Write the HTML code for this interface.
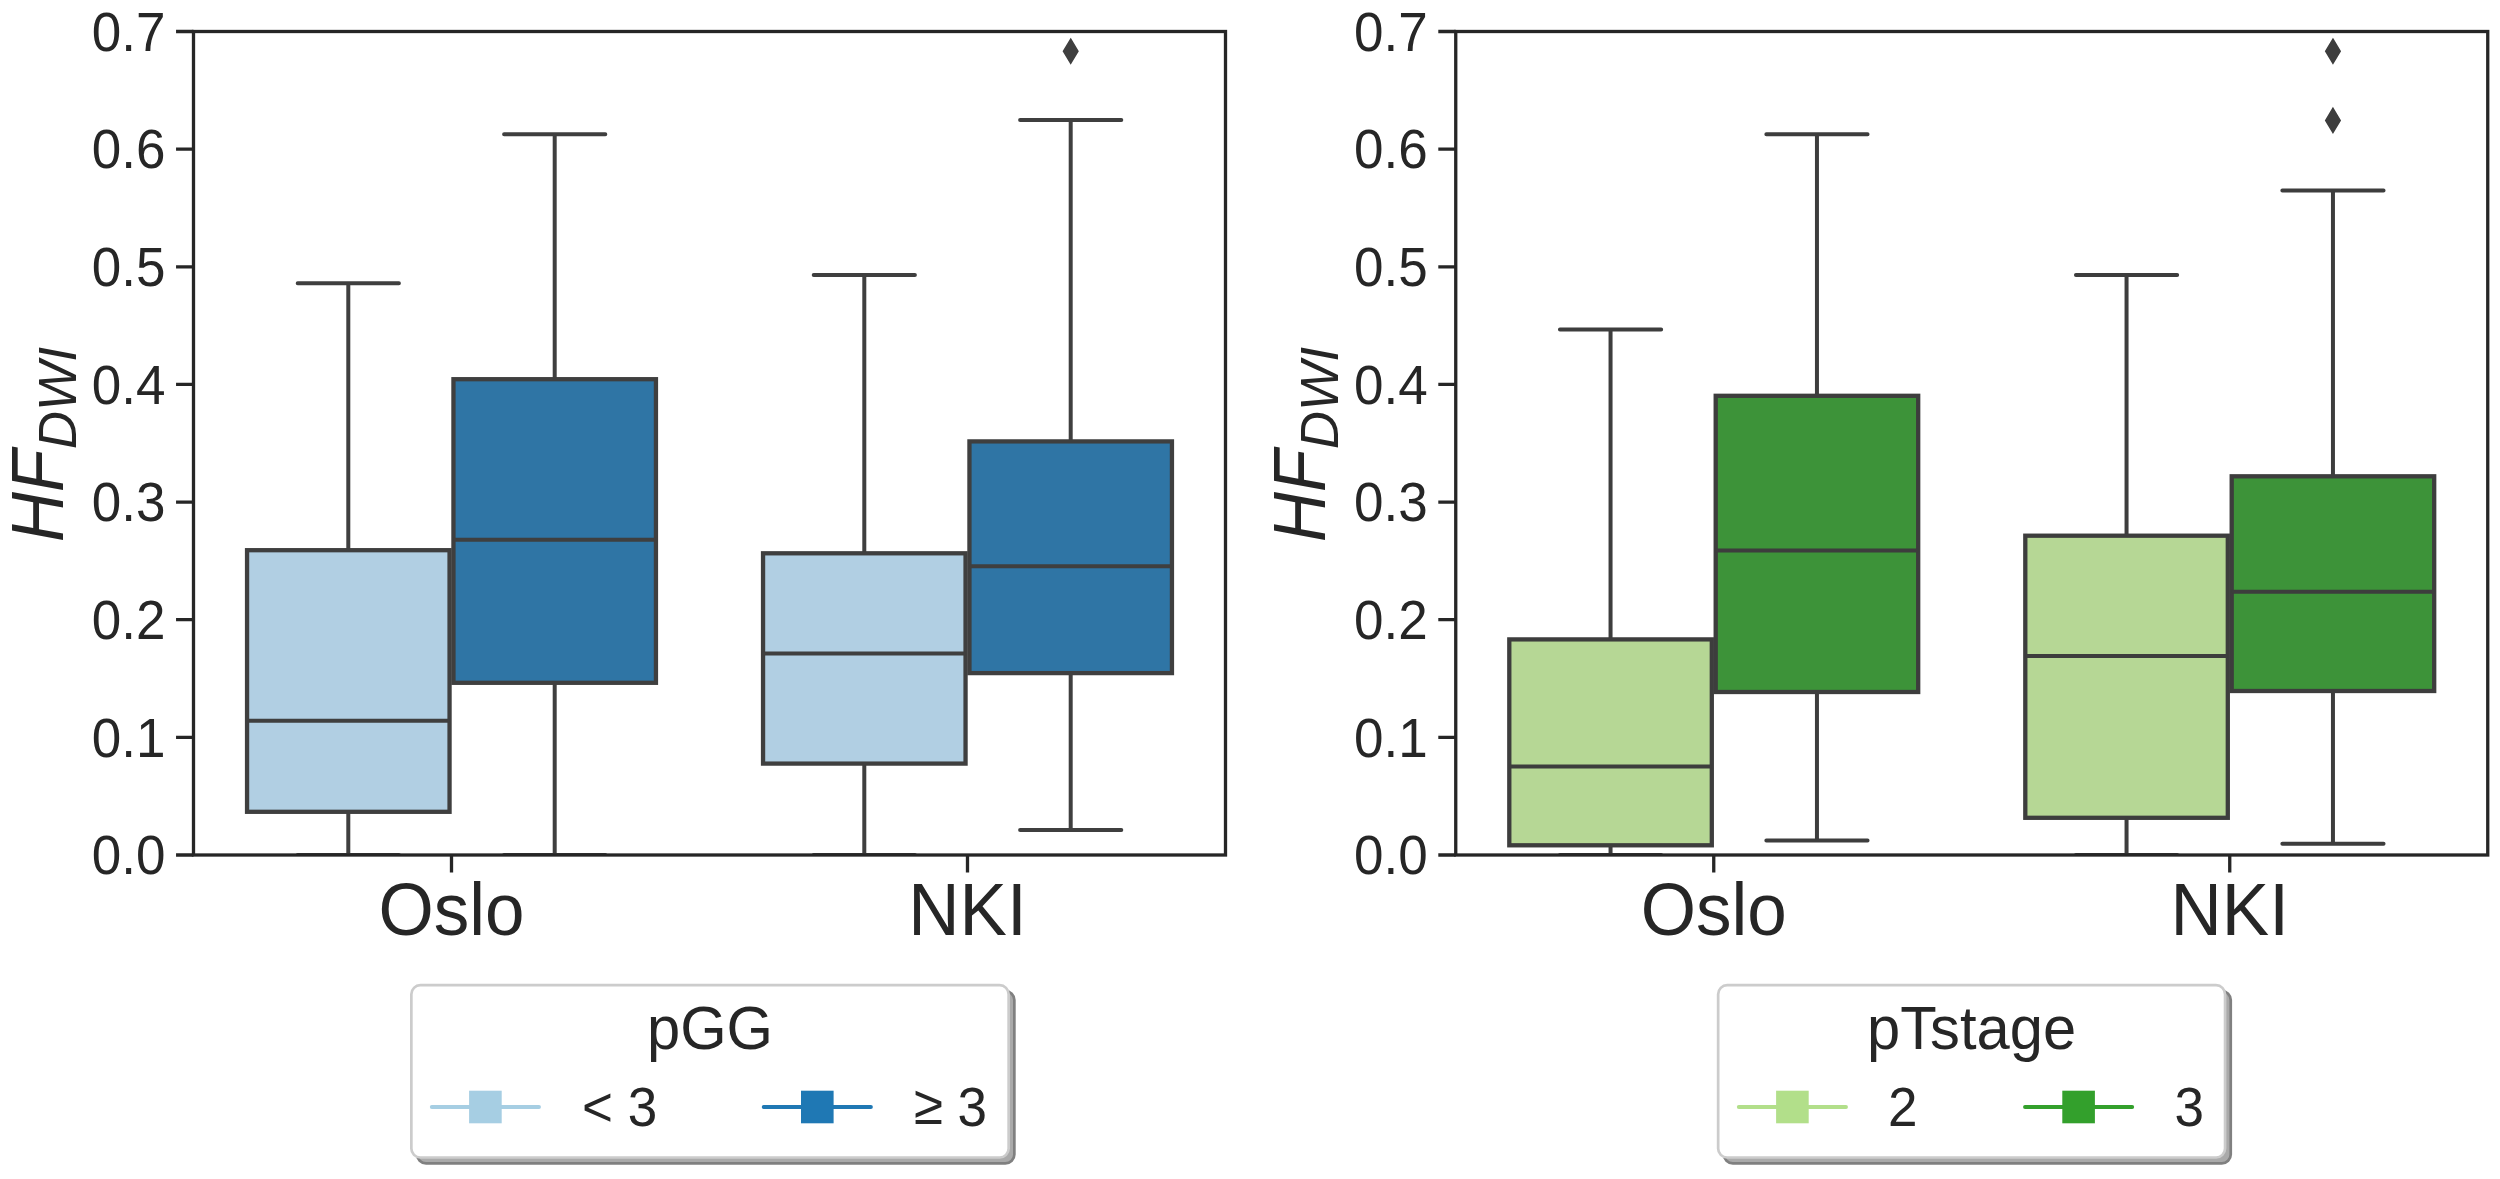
<!DOCTYPE html>
<html lang="en"><head><meta charset="utf-8"><title>HF DWI boxplots</title>
<style>html,body{margin:0;padding:0;background:#fff;}body{width:2500px;height:1179px;overflow:hidden;}svg{display:block;}text{font-family:"Liberation Sans", Arial, Helvetica, sans-serif;fill:#262626;}</style></head><body>
<svg width="2500" height="1179" viewBox="0 0 2500 1179">
<rect width="2500" height="1179" fill="#fff"/>
<defs><clipPath id="clip1"><rect x="193.5" y="31.5" width="1032.0" height="823.5"/></clipPath></defs>
<g clip-path="url(#clip1)" stroke="#3f3f3f" stroke-width="4.0" stroke-linecap="round" fill="none">
<path d="M348.30 811.80V855.00M348.30 550.20V283.20M297.70 855.00H398.90M297.70 283.20H398.90"/>
<rect x="247.05" y="550.20" width="202.50" height="261.60" fill="#b1cfe3" stroke-width="4.3" stroke-linejoin="miter"/>
<path d="M247.05 720.80H449.55" stroke-linecap="butt"/>
<path d="M554.70 682.80V855.00M554.70 379.20V134.30M504.10 855.00H605.30M504.10 134.30H605.30"/>
<rect x="453.45" y="379.20" width="202.50" height="303.60" fill="#2f75a5" stroke-width="4.3" stroke-linejoin="miter"/>
<path d="M453.45 539.70H655.95" stroke-linecap="butt"/>
<path d="M864.30 763.60V855.00M864.30 553.30V275.10M813.70 855.00H914.90M813.70 275.10H914.90"/>
<rect x="763.05" y="553.30" width="202.50" height="210.30" fill="#b1cfe3" stroke-width="4.3" stroke-linejoin="miter"/>
<path d="M763.05 653.40H965.55" stroke-linecap="butt"/>
<path d="M1070.70 673.10V830.00M1070.70 441.40V120.10M1020.10 830.00H1121.30M1020.10 120.10H1121.30"/>
<rect x="969.45" y="441.40" width="202.50" height="231.70" fill="#2f75a5" stroke-width="4.3" stroke-linejoin="miter"/>
<path d="M969.45 566.20H1171.95" stroke-linecap="butt"/>
<path d="M1070.70 39.20L1077.90 51.20L1070.70 63.20L1063.50 51.20Z" fill="#3f3f3f" stroke-width="1.6" stroke-linejoin="miter"/>
</g>
<rect x="193.5" y="31.5" width="1032.0" height="823.5" fill="none" stroke="#262626" stroke-width="3.3" stroke-linejoin="miter"/>
<path d="M176.05 855.00H193.50M176.05 737.36H193.50M176.05 619.71H193.50M176.05 502.07H193.50M176.05 384.43H193.50M176.05 266.79H193.50M176.05 149.14H193.50M176.05 31.50H193.50M451.50 855.00V872.45M967.50 855.00V872.45" stroke="#262626" stroke-width="3.3" fill="none"/>
<g font-size="53" text-anchor="end">
<text transform="translate(165.50 874.30) scale(1 1.04)">0.0</text>
<text transform="translate(165.50 756.66) scale(1 1.04)">0.1</text>
<text transform="translate(165.50 639.01) scale(1 1.04)">0.2</text>
<text transform="translate(165.50 521.37) scale(1 1.04)">0.3</text>
<text transform="translate(165.50 403.73) scale(1 1.04)">0.4</text>
<text transform="translate(165.50 286.09) scale(1 1.04)">0.5</text>
<text transform="translate(165.50 168.44) scale(1 1.04)">0.6</text>
<text transform="translate(165.50 50.80) scale(1 1.04)">0.7</text>
</g>
<g font-size="71" text-anchor="middle">
<text transform="translate(451.50 934.60) scale(1 1.04)">Oslo</text><text transform="translate(967.50 934.60) scale(1 1.04)">NKI</text>
</g>
<g font-style="italic"><text transform="translate(63.10 542.00) rotate(-90) scale(0.925 1)" font-size="74.8">HF</text>
<text transform="translate(75.90 449.00) rotate(-90) scale(0.99 1)" font-size="53">DWI</text></g>
<rect x="417.05" y="991.10" width="597.30" height="172.30" rx="9" ry="9" fill="#aaaaaa" stroke="#808080" stroke-width="2.7"/>
<rect x="411.35" y="985.20" width="597.30" height="172.30" rx="9" ry="9" fill="#ffffff" stroke="#cccccc" stroke-width="2.7"/>
<text transform="translate(710.00 1049.20) scale(1 1.012)" font-size="59.7" text-anchor="middle">pGG</text>
<path d="M431.80 1107H539.00" stroke="#a6cee3" stroke-width="3.9" stroke-linecap="round"/>
<rect x="469.10" y="1090.70" width="32.6" height="32.6" fill="#a6cee3"/>
<text transform="translate(582.00 1125.80) scale(1 1.04)" font-size="53">&lt; 3</text>
<path d="M763.70 1107H870.90" stroke="#1f78b4" stroke-width="3.9" stroke-linecap="round"/>
<rect x="801.00" y="1090.70" width="32.6" height="32.6" fill="#1f78b4"/>
<text transform="translate(913.70 1125.80) scale(1 1.04)" font-size="53"><tspan dy="-2">≥</tspan><tspan dy="2"> 3</tspan></text>
<defs><clipPath id="clip2"><rect x="1455.75" y="31.5" width="1032.0" height="823.5"/></clipPath></defs>
<g clip-path="url(#clip2)" stroke="#3d3d3d" stroke-width="4.0" stroke-linecap="round" fill="none">
<path d="M1610.55 845.30V855.00M1610.55 639.40V329.60M1559.95 855.00H1661.15M1559.95 329.60H1661.15"/>
<rect x="1509.30" y="639.40" width="202.50" height="205.90" fill="#b6d795" stroke-width="4.3" stroke-linejoin="miter"/>
<path d="M1509.30 766.60H1711.80" stroke-linecap="butt"/>
<path d="M1816.95 692.00V840.60M1816.95 395.80V134.30M1766.35 840.60H1867.55M1766.35 134.30H1867.55"/>
<rect x="1715.70" y="395.80" width="202.50" height="296.20" fill="#3d9339" stroke-width="4.3" stroke-linejoin="miter"/>
<path d="M1715.70 550.60H1918.20" stroke-linecap="butt"/>
<path d="M2126.55 817.80V855.00M2126.55 535.70V275.10M2075.95 855.00H2177.15M2075.95 275.10H2177.15"/>
<rect x="2025.30" y="535.70" width="202.50" height="282.10" fill="#b6d795" stroke-width="4.3" stroke-linejoin="miter"/>
<path d="M2025.30 656.10H2227.80" stroke-linecap="butt"/>
<path d="M2332.95 691.00V843.70M2332.95 476.30V190.60M2282.35 843.70H2383.55M2282.35 190.60H2383.55"/>
<rect x="2231.70" y="476.30" width="202.50" height="214.70" fill="#3d9339" stroke-width="4.3" stroke-linejoin="miter"/>
<path d="M2231.70 591.70H2434.20" stroke-linecap="butt"/>
<path d="M2332.95 39.20L2340.15 51.20L2332.95 63.20L2325.75 51.20Z" fill="#3d3d3d" stroke-width="1.6" stroke-linejoin="miter"/>
<path d="M2332.95 108.40L2340.15 120.40L2332.95 132.40L2325.75 120.40Z" fill="#3d3d3d" stroke-width="1.6" stroke-linejoin="miter"/>
</g>
<rect x="1455.75" y="31.5" width="1032.0" height="823.5" fill="none" stroke="#262626" stroke-width="3.3" stroke-linejoin="miter"/>
<path d="M1438.30 855.00H1455.75M1438.30 737.36H1455.75M1438.30 619.71H1455.75M1438.30 502.07H1455.75M1438.30 384.43H1455.75M1438.30 266.79H1455.75M1438.30 149.14H1455.75M1438.30 31.50H1455.75M1713.75 855.00V872.45M2229.75 855.00V872.45" stroke="#262626" stroke-width="3.3" fill="none"/>
<g font-size="53" text-anchor="end">
<text transform="translate(1427.75 874.30) scale(1 1.04)">0.0</text>
<text transform="translate(1427.75 756.66) scale(1 1.04)">0.1</text>
<text transform="translate(1427.75 639.01) scale(1 1.04)">0.2</text>
<text transform="translate(1427.75 521.37) scale(1 1.04)">0.3</text>
<text transform="translate(1427.75 403.73) scale(1 1.04)">0.4</text>
<text transform="translate(1427.75 286.09) scale(1 1.04)">0.5</text>
<text transform="translate(1427.75 168.44) scale(1 1.04)">0.6</text>
<text transform="translate(1427.75 50.80) scale(1 1.04)">0.7</text>
</g>
<g font-size="71" text-anchor="middle">
<text transform="translate(1713.75 934.60) scale(1 1.04)">Oslo</text><text transform="translate(2229.75 934.60) scale(1 1.04)">NKI</text>
</g>
<g font-style="italic"><text transform="translate(1325.35 542.00) rotate(-90) scale(0.925 1)" font-size="74.8">HF</text>
<text transform="translate(1338.15 449.00) rotate(-90) scale(0.99 1)" font-size="53">DWI</text></g>
<rect x="1723.85" y="991.10" width="506.90" height="172.30" rx="9" ry="9" fill="#aaaaaa" stroke="#808080" stroke-width="2.7"/>
<rect x="1718.15" y="985.20" width="506.90" height="172.30" rx="9" ry="9" fill="#ffffff" stroke="#cccccc" stroke-width="2.7"/>
<text transform="translate(1971.60 1049.20) scale(1 1.012)" font-size="59.7" text-anchor="middle">pTstage</text>
<path d="M1738.80 1107H1846.00" stroke="#b2df8a" stroke-width="3.9" stroke-linecap="round"/>
<rect x="1776.10" y="1090.70" width="32.6" height="32.6" fill="#b2df8a"/>
<text transform="translate(1888.00 1125.80) scale(1 1.04)" font-size="53">2</text>
<path d="M2025.00 1107H2132.20" stroke="#33a02c" stroke-width="3.9" stroke-linecap="round"/>
<rect x="2062.30" y="1090.70" width="32.6" height="32.6" fill="#33a02c"/>
<text transform="translate(2174.50 1125.80) scale(1 1.04)" font-size="53">3</text>
</svg></body></html>
